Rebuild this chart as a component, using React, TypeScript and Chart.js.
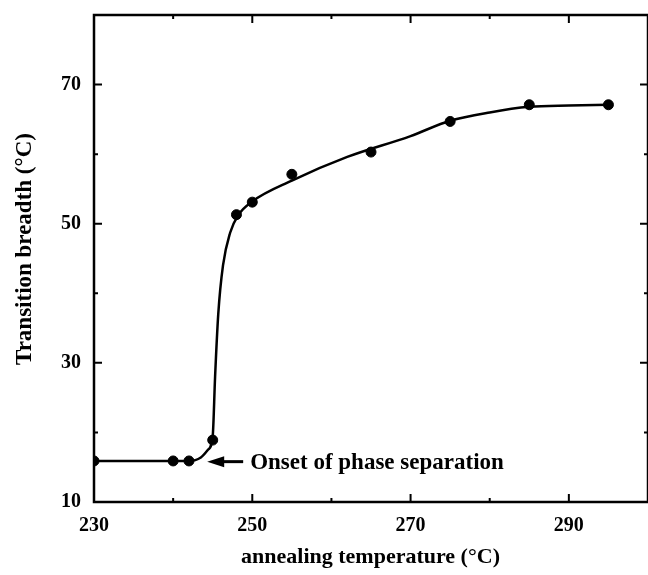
import React, { useEffect, useRef } from "react";
import { Chart, registerables } from "chart.js";

Chart.register(...registerables);

// Measured transition breadth versus annealing temperature
const tempC = [230, 240, 242, 245, 248, 250, 255, 265, 275, 285, 295];
const breadthC = [15.9, 15.9, 15.9, 18.9, 51.3, 53.1, 57.1, 60.3, 64.7, 67.1, 67.1];

// Hand-fitted trend curve (knots along the smooth line)
const curveX = [230, 242, 243.5, 244.4, 245, 245.3, 245.7, 246.3, 247.2, 248.2, 250, 255, 262, 270, 275, 280, 285, 290, 295];
const curveY = [15.9, 15.9, 16.4, 17.5, 19.5, 28, 37, 44, 48.7, 51.2, 53.2, 56.2, 59.6, 62.6, 64.8, 66.0, 66.8, 67.0, 67.1];

// Axis ranges and tick values
const xRange = [230, 300];
const yRange = [10, 80];
const xTicks = [230, 250, 270, 290];
const xMinor = [240, 260, 280];
const yTicks = [10, 30, 50, 70];
const yMinor = [20, 40, 60];

const xTitle = "annealing temperature (°C)";
const yTitle = "Transition breadth (°C)";
const onsetLabel = "Onset of phase separation";
const onsetPoint = { x: 244.3, y: 15.8 };

const SERIF = "'Liberation Serif', 'Times New Roman', serif";

const framePlugin = {
  id: "frameAndNotes",
  afterDraw(chart: any) {
    const { ctx, chartArea: a, scales } = chart;
    const xs = scales.x;
    const ys = scales.y;
    ctx.save();
    ctx.strokeStyle = "#000";
    ctx.fillStyle = "#000";

    // frame
    ctx.lineWidth = 2.5;
    ctx.strokeRect(a.left, a.top, a.right - a.left, a.bottom - a.top);

    // inward ticks on all four sides
    ctx.lineWidth = 2;
    const tickX = (v: number, len: number) => {
      const px = xs.getPixelForValue(v);
      ctx.beginPath();
      ctx.moveTo(px, a.bottom);
      ctx.lineTo(px, a.bottom - len);
      ctx.moveTo(px, a.top);
      ctx.lineTo(px, a.top + len);
      ctx.stroke();
    };
    const tickY = (v: number, len: number) => {
      const py = ys.getPixelForValue(v);
      ctx.beginPath();
      ctx.moveTo(a.left, py);
      ctx.lineTo(a.left + len, py);
      ctx.moveTo(a.right, py);
      ctx.lineTo(a.right - len, py);
      ctx.stroke();
    };
    xTicks.forEach((v) => tickX(v, 8));
    xMinor.forEach((v) => tickX(v, 4));
    yTicks.forEach((v) => tickY(v, 8));
    yMinor.forEach((v) => tickY(v, 4));

    // axis titles
    ctx.textAlign = "center";
    ctx.textBaseline = "middle";
    ctx.font = `bold 22px ${SERIF}`;
    ctx.fillText(xTitle, 370.5, 557);
    ctx.save();
    ctx.translate(25, 249);
    ctx.rotate(-Math.PI / 2);
    ctx.font = `bold 23px ${SERIF}`;
    ctx.fillText(yTitle, 0, 0);
    ctx.restore();

    // onset annotation: arrow pointing at the knee, then the label
    const tx = xs.getPixelForValue(onsetPoint.x);
    const ty = ys.getPixelForValue(onsetPoint.y);
    ctx.lineWidth = 3;
    ctx.beginPath();
    ctx.moveTo(tx + 12, ty);
    ctx.lineTo(tx + 36, ty);
    ctx.stroke();
    ctx.beginPath();
    ctx.moveTo(tx, ty);
    ctx.lineTo(tx + 17, ty - 5.5);
    ctx.lineTo(tx + 17, ty + 5.5);
    ctx.closePath();
    ctx.fill();
    ctx.font = `bold 23px ${SERIF}`;
    ctx.textAlign = "left";
    ctx.fillText(onsetLabel, tx + 43, ty + 1);

    ctx.restore();
  },
};

const noPadding = (s: any) => {
  s.paddingTop = 0;
  s.paddingBottom = 0;
  s.paddingLeft = 0;
  s.paddingRight = 0;
};

export default function App() {
  const canvasRef = useRef<HTMLCanvasElement | null>(null);

  useEffect(() => {
    if (!canvasRef.current) return;
    const chart = new Chart(canvasRef.current, {
      type: "scatter",
      data: {
        datasets: [
          {
            type: "line",
            label: "fit",
            data: curveX.map((x, i) => ({ x, y: curveY[i] })),
            borderColor: "#000",
            borderWidth: 2.5,
            pointRadius: 0,
            fill: false,
            cubicInterpolationMode: "monotone",
          },
          {
            label: "breadth",
            data: tempC.map((x, i) => ({ x, y: breadthC[i] })),
            backgroundColor: "#000",
            borderColor: "#000",
            pointRadius: 5,
            pointHoverRadius: 5,
            showLine: false,
          },
        ],
      },
      options: {
        animation: false,
        responsive: true,
        maintainAspectRatio: false,
        layout: { autoPadding: false, padding: { top: 15, right: -1, left: 0, bottom: 0 } },
        plugins: { legend: { display: false }, tooltip: { enabled: false } },
        scales: {
          x: {
            type: "linear",
            min: xRange[0],
            max: xRange[1],
            grid: { display: false, drawTicks: false },
            border: { display: false },
            afterBuildTicks: (s: any) => {
              s.ticks = xTicks.map((value) => ({ value }));
            },
            afterFit: (s: any) => {
              s.height = 73;
              noPadding(s);
            },
            ticks: {
              padding: 12,
              color: "#000",
              maxRotation: 0,
              autoSkip: false,
              font: { family: SERIF, size: 20, weight: "bold" },
            },
          },
          y: {
            type: "linear",
            min: yRange[0],
            max: yRange[1],
            grid: { display: false, drawTicks: false },
            border: { display: false },
            afterBuildTicks: (s: any) => {
              s.ticks = yTicks.map((value) => ({ value }));
            },
            afterFit: (s: any) => {
              s.width = 94;
              noPadding(s);
            },
            ticks: {
              padding: 13,
              color: "#000",
              autoSkip: false,
              font: { family: SERIF, size: 20, weight: "bold" },
            },
          },
        },
      },
      plugins: [framePlugin],
    });
    return () => chart.destroy();
  }, []);

  return (
    <div style={{ position: "fixed", left: 0, top: 0, width: 648, height: 575, background: "#fff" }}>
      <canvas ref={canvasRef} />
    </div>
  );
}
